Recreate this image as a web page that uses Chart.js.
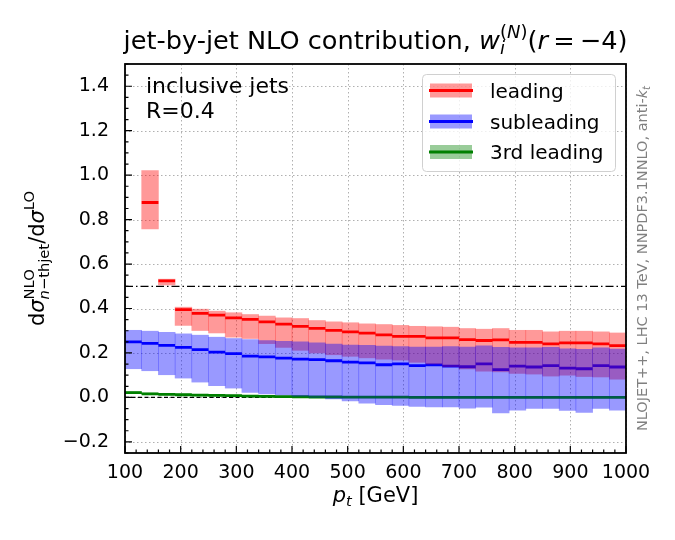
<!DOCTYPE html>
<html>
<head>
<meta charset="utf-8">
<script src="https://cdn.jsdelivr.net/npm/chart.js@4/dist/chart.umd.min.js"></script>
<style>
  html, body { margin: 0; padding: 0; background: #fff; }
  #wrap { width: 675px; height: 540px; }
</style>
</head>
<body>
<div id="wrap"><canvas id="c" width="675" height="540"></canvas></div>
<script>
// bin edges in p_t [GeV]
const binEdges = [100, 130, 160, 190, 220, 250, 280, 310, 340, 370, 400, 430, 460, 490, 520, 550,
  580, 610, 640, 670, 700, 730, 760, 790, 820, 850, 880, 910, 940, 970, 1000];

// leading jet: central value and band
const leadingMid = [null, 0.877, 0.524, 0.395, 0.378, 0.370, 0.358, 0.351, 0.340, 0.330, 0.320, 0.311, 0.302,
  0.295, 0.289, 0.281, 0.275, 0.275, 0.268, 0.268, 0.260, 0.256, 0.259, 0.248, 0.248, 0.241, 0.245, 0.245, 0.241, 0.233];
const leadingHi = [null, 1.021, 0.532, 0.406, 0.397, 0.388, 0.381, 0.373, 0.366, 0.358, 0.355, 0.346, 0.340,
  0.336, 0.331, 0.328, 0.324, 0.320, 0.318, 0.316, 0.310, 0.307, 0.310, 0.302, 0.302, 0.295, 0.298, 0.298, 0.295, 0.290];
const leadingLo = [null, 0.758, 0.506, 0.324, 0.301, 0.290, 0.271, 0.265, 0.242, 0.225, 0.212, 0.200, 0.192,
  0.185, 0.178, 0.172, 0.168, 0.158, 0.150, 0.138, 0.128, 0.118, 0.115, 0.108, 0.105, 0.096, 0.100, 0.094, 0.092, 0.082];

// subleading jet
const subMid = [0.250, 0.243, 0.234, 0.225, 0.215, 0.204, 0.197, 0.186, 0.182, 0.177, 0.172, 0.170, 0.165,
  0.159, 0.155, 0.147, 0.151, 0.143, 0.146, 0.141, 0.138, 0.151, 0.125, 0.141, 0.137, 0.143, 0.132, 0.129, 0.143, 0.137];
const subHi = [0.302, 0.298, 0.293, 0.286, 0.280, 0.271, 0.265, 0.260, 0.256, 0.252, 0.250, 0.246, 0.240,
  0.236, 0.234, 0.231, 0.229, 0.226, 0.226, 0.229, 0.227, 0.232, 0.225, 0.223, 0.223, 0.225, 0.219, 0.216, 0.223, 0.217];
const subLo = [0.129, 0.120, 0.102, 0.087, 0.069, 0.053, 0.042, 0.022, 0.016, 0.011, 0.004, -0.001, -0.007,
  -0.016, -0.026, -0.033, -0.036, -0.040, -0.043, -0.043, -0.048, -0.044, -0.070, -0.057, -0.050, -0.050, -0.058, -0.068, -0.050, -0.057];

// 3rd leading jet
const thirdMid = [0.022, 0.016, 0.014, 0.012, 0.010, 0.009, 0.008, 0.006, 0.005, 0.004, 0.003, 0.002, 0.002,
  0.001, 0.001, 0.001, 0.001, 0.000, 0.000, 0.000, 0.000, 0.000, 0.000, 0.000, 0.000, 0.000, 0.000, 0.000, 0.000, 0.000];
const thirdHi = [0.026, 0.020, 0.017, 0.015, 0.013, 0.012, 0.011, 0.009, 0.008, 0.007, 0.006, 0.005, 0.005,
  0.004, 0.004, 0.004, 0.004, 0.003, 0.003, 0.003, 0.003, 0.003, 0.003, 0.003, 0.003, 0.003, 0.003, 0.003, 0.003, 0.003];
const thirdLo = [0.018, 0.012, 0.011, 0.009, 0.007, 0.006, 0.005, 0.003, 0.002, 0.001, 0.000, -0.001, -0.001,
  -0.002, -0.002, -0.002, -0.002, -0.003, -0.003, -0.003, -0.003, -0.003, -0.003, -0.003, -0.003, -0.003, -0.003, -0.003, -0.003, -0.003];

const refLevels = [0.5, 0.0];
const xTicks = [100, 200, 300, 400, 500, 600, 700, 800, 900, 1000];
const yTicks = [-0.2, 0.0, 0.2, 0.4, 0.6, 0.8, 1.0, 1.2, 1.4];
const seriesNames = ['leading', 'subleading', '3rd leading'];

const FAM = '"DejaVu Sans"';
const font = (size, italic) => (italic ? 'italic ' : '') + size + 'px ' + FAM;

function bandData(lo, hi) {
  const out = [];
  lo.forEach((v, i) => {
    if (v === null) return;
    out.push({ x: (binEdges[i] + binEdges[i + 1]) / 2, y: [v, hi[i]] });
  });
  return out;
}

function segData(mid) {
  const out = [];
  mid.forEach((v, i) => {
    if (v === null) return;
    out.push({ x: binEdges[i], y: v }, { x: binEdges[i + 1], y: v }, { x: binEdges[i + 1], y: null });
  });
  return out;
}

function band(data, color, order) {
  return { type: 'bar', data, backgroundColor: color, borderWidth: 0, grouped: false,
    barPercentage: 1, categoryPercentage: 1, order };
}
function seg(data, color) {
  return { type: 'line', data, borderColor: color, borderWidth: 2.8, pointRadius: 0,
    spanGaps: false, fill: false, tension: 0, borderCapStyle: 'butt', order: 10 };
}

// text runs: pieces {t, f, dy} or {stack: [run, run]}
function runWidth(ctx, run) {
  let w = 0;
  run.forEach((p) => {
    if (p.stack) w += Math.max(...p.stack.map((r) => runWidth(ctx, r)));
    else { ctx.font = p.f; w += ctx.measureText(p.t).width; }
  });
  return w;
}
function drawRun(ctx, run, x, y) {
  run.forEach((p) => {
    if (p.stack) {
      p.stack.forEach((r) => drawRun(ctx, r, x, y));
      x += Math.max(...p.stack.map((r) => runWidth(ctx, r)));
    } else {
      ctx.font = p.f;
      ctx.fillText(p.t, x, y + (p.dy || 0));
      x += ctx.measureText(p.t).width;
    }
  });
}
function drawCentered(ctx, run, cx, y) {
  drawRun(ctx, run, cx - runWidth(ctx, run) / 2, y);
}

// dotted grid at the major ticks, under the data
const dottedGrid = {
  id: 'dottedGrid',
  beforeDatasetsDraw(chart) {
    const { ctx, chartArea: a, scales: { x, y } } = chart;
    ctx.save();
    ctx.strokeStyle = '#b0b0b0';
    ctx.lineWidth = 1;
    ctx.setLineDash([1.5, 2.5]);
    ctx.beginPath();
    xTicks.forEach((v) => {
      const px = Math.round(x.getPixelForValue(v)) + 0.5;
      ctx.moveTo(px, a.top); ctx.lineTo(px, a.bottom);
    });
    yTicks.forEach((v) => {
      const py = Math.round(y.getPixelForValue(v)) + 0.5;
      ctx.moveTo(a.left, py); ctx.lineTo(a.right, py);
    });
    ctx.stroke();
    ctx.restore();
  },
};

const decor = {
  id: 'decor',
  afterDraw(chart) {
    const { ctx, chartArea: a, scales: { x, y } } = chart;
    ctx.save();
    // inward ticks
    ctx.strokeStyle = '#000';
    ctx.lineWidth = 1.2;
    ctx.beginPath();
    for (let v = 100; v <= 1000; v += 20) {
      const px = x.getPixelForValue(v);
      const len = v % 100 === 0 ? 7 : 3.5;
      ctx.moveTo(px, a.bottom); ctx.lineTo(px, a.bottom - len);
    }
    for (let k = -5; k <= 30; k++) {
      const v = k * 0.05;
      const py = y.getPixelForValue(v);
      const len = k % 4 === 0 ? 7 : 3.5;
      ctx.moveTo(a.left, py); ctx.lineTo(a.left + len, py);
    }
    ctx.stroke();
    // frame
    ctx.lineWidth = 1.8;
    ctx.strokeRect(a.left, a.top, a.right - a.left, a.bottom - a.top);

    ctx.fillStyle = '#000';
    ctx.textBaseline = 'alphabetic';
    ctx.textAlign = 'left';
    const cx = (a.left + a.right) / 2;
    const cy = (a.top + a.bottom) / 2;

    // title
    drawCentered(ctx, [
      { t: 'jet-by-jet NLO contribution, ', f: font(25.6) },
      { t: 'w', f: font(25.6, true) },
      { stack: [
        [{ t: '(', f: font(18), dy: -11 }, { t: 'N', f: font(18, true), dy: -11 }, { t: ')', f: font(18), dy: -11 }],
        [{ t: 'i', f: font(18, true), dy: 5 }],
      ] },
      { t: '(', f: font(25.6) },
      { t: 'r', f: font(25.6, true) },
      { t: '\u2009=\u2009\u22124)', f: font(25.6) },
    ], cx, 49);

    // x label
    drawCentered(ctx, [
      { t: 'p', f: font(21, true) },
      { t: 't', f: font(14.7, true), dy: 4 },
      { t: ' [GeV]', f: font(21) },
    ], cx, 502);

    // y label
    ctx.save();
    ctx.translate(44, cy);
    ctx.rotate(-Math.PI / 2);
    drawCentered(ctx, [
      { t: 'd', f: font(21) },
      { t: '\u03c3', f: font(21, true) },
      { stack: [
        [{ t: 'NLO', f: font(14.7), dy: -10 }],
        [{ t: 'n', f: font(14.7, true), dy: 5 }, { t: '\u2212thjet', f: font(14.7), dy: 5 }],
      ] },
      { t: '/d', f: font(21) },
      { t: '\u03c3', f: font(21, true) },
      { t: 'LO', f: font(14.7), dy: -10 },
    ], 0, 0);
    ctx.restore();

    // side note
    ctx.save();
    ctx.fillStyle = '#808080';
    ctx.translate(647, cy);
    ctx.rotate(-Math.PI / 2);
    drawCentered(ctx, [
      { t: 'NLOJET++, LHC 13 TeV, NNPDF3.1NNLO, anti-', f: font(14.5) },
      { t: 'k', f: font(14.5, true) },
      { t: 't', f: font(10, true), dy: 3 },
    ], 0, 0);
    ctx.restore();

    // annotation
    ctx.font = font(22);
    ctx.fillText('inclusive jets', 146, 93);
    ctx.fillText('R=0.4', 146, 118);

    // legend
    const colors = ['255,0,0', '0,0,255', '0,128,0'];
    ctx.beginPath();
    ctx.roundRect(422.5, 74.5, 193, 97, 4);
    ctx.fillStyle = 'rgba(255,255,255,0.8)';
    ctx.fill();
    ctx.strokeStyle = '#d0d0d0';
    ctx.lineWidth = 1;
    ctx.stroke();
    const rowY = [90.5, 121.5, 152];
    seriesNames.forEach((name, i) => {
      ctx.fillStyle = 'rgba(' + colors[i] + ',0.4)';
      ctx.fillRect(430, rowY[i] - 7, 42, 14);
      ctx.fillStyle = 'rgb(' + colors[i] + ')';
      ctx.fillRect(429, rowY[i] - 1.5, 44, 3);
      ctx.fillStyle = '#000';
      ctx.font = font(20);
      ctx.fillText(name, 490, rowY[i] + 7);
    });
    ctx.restore();
  },
};

new Chart(document.getElementById('c'), {
  type: 'line',
  data: {
    datasets: [
      { type: 'line', data: [{ x: 100, y: refLevels[0] }, { x: 1000, y: refLevels[0] }], borderColor: '#000',
        borderWidth: 1.2, borderDash: [8, 3, 1.5, 3], pointRadius: 0, fill: false, order: 20 },
      { type: 'line', data: [{ x: 100, y: refLevels[1] }, { x: 1000, y: refLevels[1] }], borderColor: '#000',
        borderWidth: 1.2, borderDash: [4, 2.5], pointRadius: 0, fill: false, order: 20 },
      seg(segData(leadingMid), '#ff0000'),
      seg(segData(subMid), '#0000ff'),
      seg(segData(thirdMid), '#008000'),
      band(bandData(leadingLo, leadingHi), 'rgba(255,0,0,0.4)', 3),
      band(bandData(subLo, subHi), 'rgba(0,0,255,0.4)', 2),
      band(bandData(thirdLo, thirdHi), 'rgba(0,128,0,0.4)', 1),
    ],
  },
  options: {
    responsive: false,
    animation: false,
    devicePixelRatio: 1,
    layout: { padding: { top: 64, right: 49, left: 0, bottom: 0 } },
    plugins: { legend: { display: false }, tooltip: { enabled: false }, title: { display: false } },
    scales: {
      x: {
        type: 'linear', min: 100, max: 1000, offset: false,
        afterBuildTicks: (s) => { s.ticks = xTicks.map((v) => ({ value: v })); },
        afterFit: (s) => { s.height = 87; },
        grid: { display: false },
        border: { display: false },
        ticks: { padding: 1, color: '#000', font: { family: 'DejaVu Sans', size: 19 }, maxRotation: 0,
          autoSkip: false, callback: (v) => String(v) },
      },
      y: {
        type: 'linear', min: -0.25, max: 1.5,
        afterBuildTicks: (s) => { s.ticks = yTicks.map((v) => ({ value: v })); },
        afterFit: (s) => { s.width = 125; },
        grid: { display: false },
        border: { display: false },
        ticks: { padding: 8, color: '#000', font: { family: 'DejaVu Sans', size: 19 },
          callback: (v) => (v < 0 ? '\u2212' : '') + Math.abs(v).toFixed(1) },
      },
    },
  },
  plugins: [dottedGrid, decor],
});
</script>
</body>
</html>
